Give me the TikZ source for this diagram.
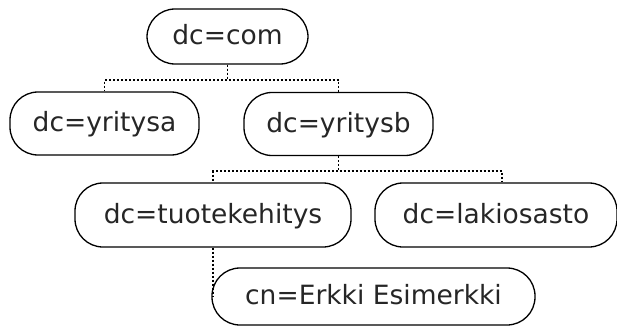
\documentclass[tikz,border=0pt]{standalone}
\usepackage{fontspec}
\setmainfont{DejaVu Sans}
\begin{document}
\begin{tikzpicture}[x=1pt,y=-1pt,
  entry/.style={draw=black, line width=1.3pt, rounded corners=28pt, inner sep=0pt,
    font=\fontsize{26.5}{30}\selectfont, text=black!85,
    text height=20pt, text depth=3.4pt},
  link/.style={line width=1.9pt, dash pattern=on 2pt off 2pt, draw=black}]
\useasboundingbox (0,0) rectangle (617,326);
\node[entry, minimum width=161pt, minimum height=55pt] (com) at (227.5,36.5) {dc=com};
\node[entry, minimum width=189pt, minimum height=63pt] (ya) at (104.5,123.5) {dc=yritysa};
\node[entry, minimum width=189pt, minimum height=63pt] (yb) at (338.5,124) {dc=yritysb};
\node[entry, minimum width=276pt, minimum height=64pt] (tu) at (213,215) {dc=tuotekehitys};
\node[entry, minimum width=242pt, minimum height=64pt] (la) at (496,215) {dc=lakiosasto};
\node[entry, minimum width=323pt, minimum height=57pt] (cn) at (373.5,296.5) {cn=Erkki Esimerkki};
\draw[link] (com.south) -- ++(0,15) -| (ya.north);
\draw[link] (com.south) -- ++(0,15) -| (yb.north);
\draw[link] (yb.south) -- ++(0,15) -| (tu.north);
\draw[link] (yb.south) -- ++(0,15) -| ([xshift=6pt]la.north);
\draw[link] (tu.south) -- (tu.south |- cn.west);
\end{tikzpicture}
\end{document}
